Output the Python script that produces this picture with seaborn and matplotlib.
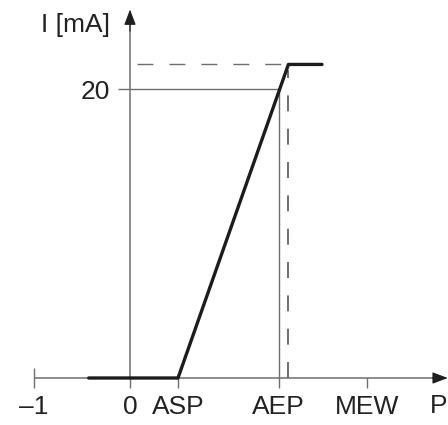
import matplotlib
matplotlib.use("Agg")
import matplotlib.pyplot as plt
import seaborn as sns
import pandas as pd

# Characteristic of the current output I over the position P
curve_p = [-0.43, 0.5, 1.65, 2.0]
curve_i = [0.0, 0.0, 21.7, 21.7]

# Marked positions on the P axis
p_ticks = [-1, 0, 0.5, 1.55, 2.47]
p_labels = ["\u20131", "0", "ASP", "AEP", "MEW"]

# Marked current on the I axis
i_ticks = [20]
i_labels = ["20"]

aep = 1.55
i_ref = 20
p_sat = 1.65
i_sat = 21.7

sns.set_style("white")
plt.rcParams["font.family"] = ["Liberation Sans", "DejaVu Sans"]
plt.rcParams["lines.scale_dashes"] = False

axis_col = "#6e6e6e"
head_col = "#1e1e1e"
text_col = "#222222"

fig = plt.figure(figsize=(4.48, 4.25), dpi=100)
ax = fig.add_axes([0, 0, 1, 1])
ax.set_xlim(-130 / 96, 318 / 96)
ax.set_ylim((378 - 425) / 14.45, 378 / 14.45)

for s in ax.spines.values():
    s.set_visible(False)
ax.spines["bottom"].set_position(("data", 0))
ax.spines["left"].set_position(("data", 0))

# Axis lines
ax.hlines(0, -1, 3.2, color=axis_col, lw=1.1)
ax.vlines(0, 0, 24.6, color=axis_col, lw=1.1)
# Arrow heads
head = dict(arrowstyle="-|>,head_length=0.95,head_width=0.36",
            color=head_col, lw=0.8, shrinkA=0, shrinkB=0)
ax.annotate("", xy=(3.31, 0), xytext=(3.15, 0), arrowprops=head,
            annotation_clip=False)
ax.annotate("", xy=(0, 25.5), xytext=(0, 24.0), arrowprops=head,
            annotation_clip=False)

# Ticks and labels
ax.set_xticks(p_ticks)
ax.set_xticklabels(p_labels)
ax.set_yticks(i_ticks)
ax.set_yticklabels(i_labels)
ax.tick_params(axis="x", bottom=True, direction="out", length=7.2, width=1.0,
               color=axis_col, pad=5, labelsize=19, labelcolor=text_col)
ax.tick_params(axis="y", left=True, direction="out", length=8.6, width=1.0,
               color=axis_col, pad=5.5, labelsize=19, labelcolor=text_col)
ax.vlines(-1, 0, 0.69, color=axis_col, lw=1.0)

# Reference lines at 20 mA / AEP
ax.hlines(i_ref, 0, aep, color=axis_col, lw=1.0)
ax.vlines(aep, 0, i_ref, color=axis_col, lw=1.0)

# Saturation guides
ax.hlines(i_sat, 0.07, p_sat, color=axis_col, lw=1.0, linestyles=[(0, (11.5, 11.5))])
ax.vlines(p_sat, 0, i_sat - 0.4, color=axis_col, lw=1.4, linestyles=[(0, (11.5, 12.5))])

df = pd.DataFrame({"P": curve_p, "I": curve_i})
sns.lineplot(data=df, x="P", y="I", sort=False, estimator=None, ax=ax,
             color="#1c1c1c", lw=2.4, zorder=5)
ax.set_xlabel("")
ax.set_ylabel("")

ax.text(3.21, -1.97, "P", fontsize=19, color=text_col, ha="center", va="center")
ax.text(-0.21, 23.95, "I [mA]", fontsize=19, color=text_col, ha="right", va="baseline")

fig.savefig("out.png", dpi=100)
